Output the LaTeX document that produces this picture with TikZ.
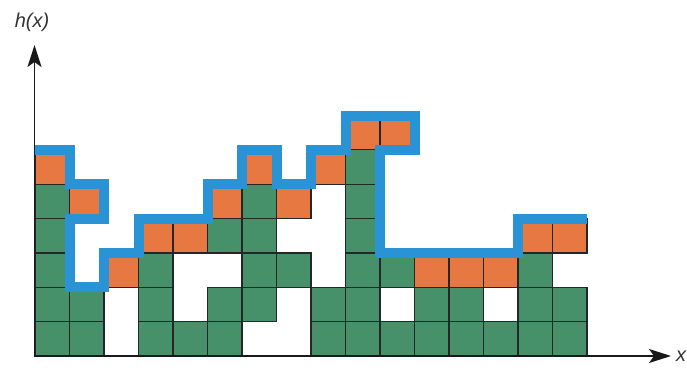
\documentclass[tikz,border=0pt]{standalone}
\usepackage{fontspec}
\setmainfont{Liberation Sans}
\usetikzlibrary{arrows.meta}
\definecolor{cgreen}{HTML}{46916A}
\definecolor{corange}{HTML}{E87842}
\definecolor{cblue}{HTML}{2A93D5}
\tikzset{
  gcell/.style={fill=cgreen, draw=black!85, line width=1.1pt},
  ocell/.style={fill=corange, draw=black!85, line width=1.1pt},
  hline/.style={draw=cblue, line width=10pt, line join=miter},
  axis/.style={draw=black!90, line width=1.6pt, -{Stealth[length=22pt,width=14pt,inset=5pt]}},
  lbl/.style={font=\fontsize{20}{22}\selectfont\itshape, text=black!80, inner sep=0pt}
}
\begin{document}
\begin{tikzpicture}[x=1pt,y=1pt]
\useasboundingbox (0,0) rectangle (687,367);
\begin{scope}[shift={(35,11)}, x=34.5pt, y=34.35pt]
  \foreach \c/\r in {1/1,1/2,1/3,1/4,1/5, 2/1,2/2, 4/1,4/2,4/3, 5/1, 6/1,6/2,6/4,
                     7/2,7/3,7/4,7/5, 8/3, 9/1,9/2, 10/1,10/2,10/3,10/4,10/5,10/6,
                     11/1,11/3, 12/1,12/2, 13/1,13/2, 14/1, 15/1,15/2,15/3, 16/1,16/2}
    \draw[gcell] (\c-1,\r-1) rectangle (\c,\r);
  \foreach \c/\r in {1/6,2/5,3/3,4/4,5/4,6/5,7/6,8/5,9/6,10/7,11/7,12/3,13/3,14/3,15/4,16/4}
    \draw[ocell] (\c-1,\r-1) rectangle (\c,\r);
  \draw[hline] (0,6) -- (1,6) -- (1,5) -- (2,5) -- (2,4) -- (1,4) -- (1,2) -- (2,2)
    -- (2,3) -- (3,3) -- (3,4) -- (5,4) -- (5,5) -- (6,5) -- (6,6) -- (7,6) -- (7,5)
    -- (8,5) -- (8,6) -- (9,6) -- (9,7) -- (11,7) -- (11,6) -- (10,6) -- (10,3)
    -- (14,3) -- (14,4) -- (16,4);
\end{scope}
\coordinate (o) at (34.5,10.2);
\coordinate (ytip) at (34.5,322);
\coordinate (xo) at (33.7,11);
\coordinate (xtip) at (671,11);
\draw[axis] (o) -- (ytip);
\draw[axis] (xo) -- (xtip);
\node[lbl] (hx) at (32,345) {h(x)};
\node[lbl, anchor=west] (xl) at (676,11) {x};
\end{tikzpicture}
\end{document}
